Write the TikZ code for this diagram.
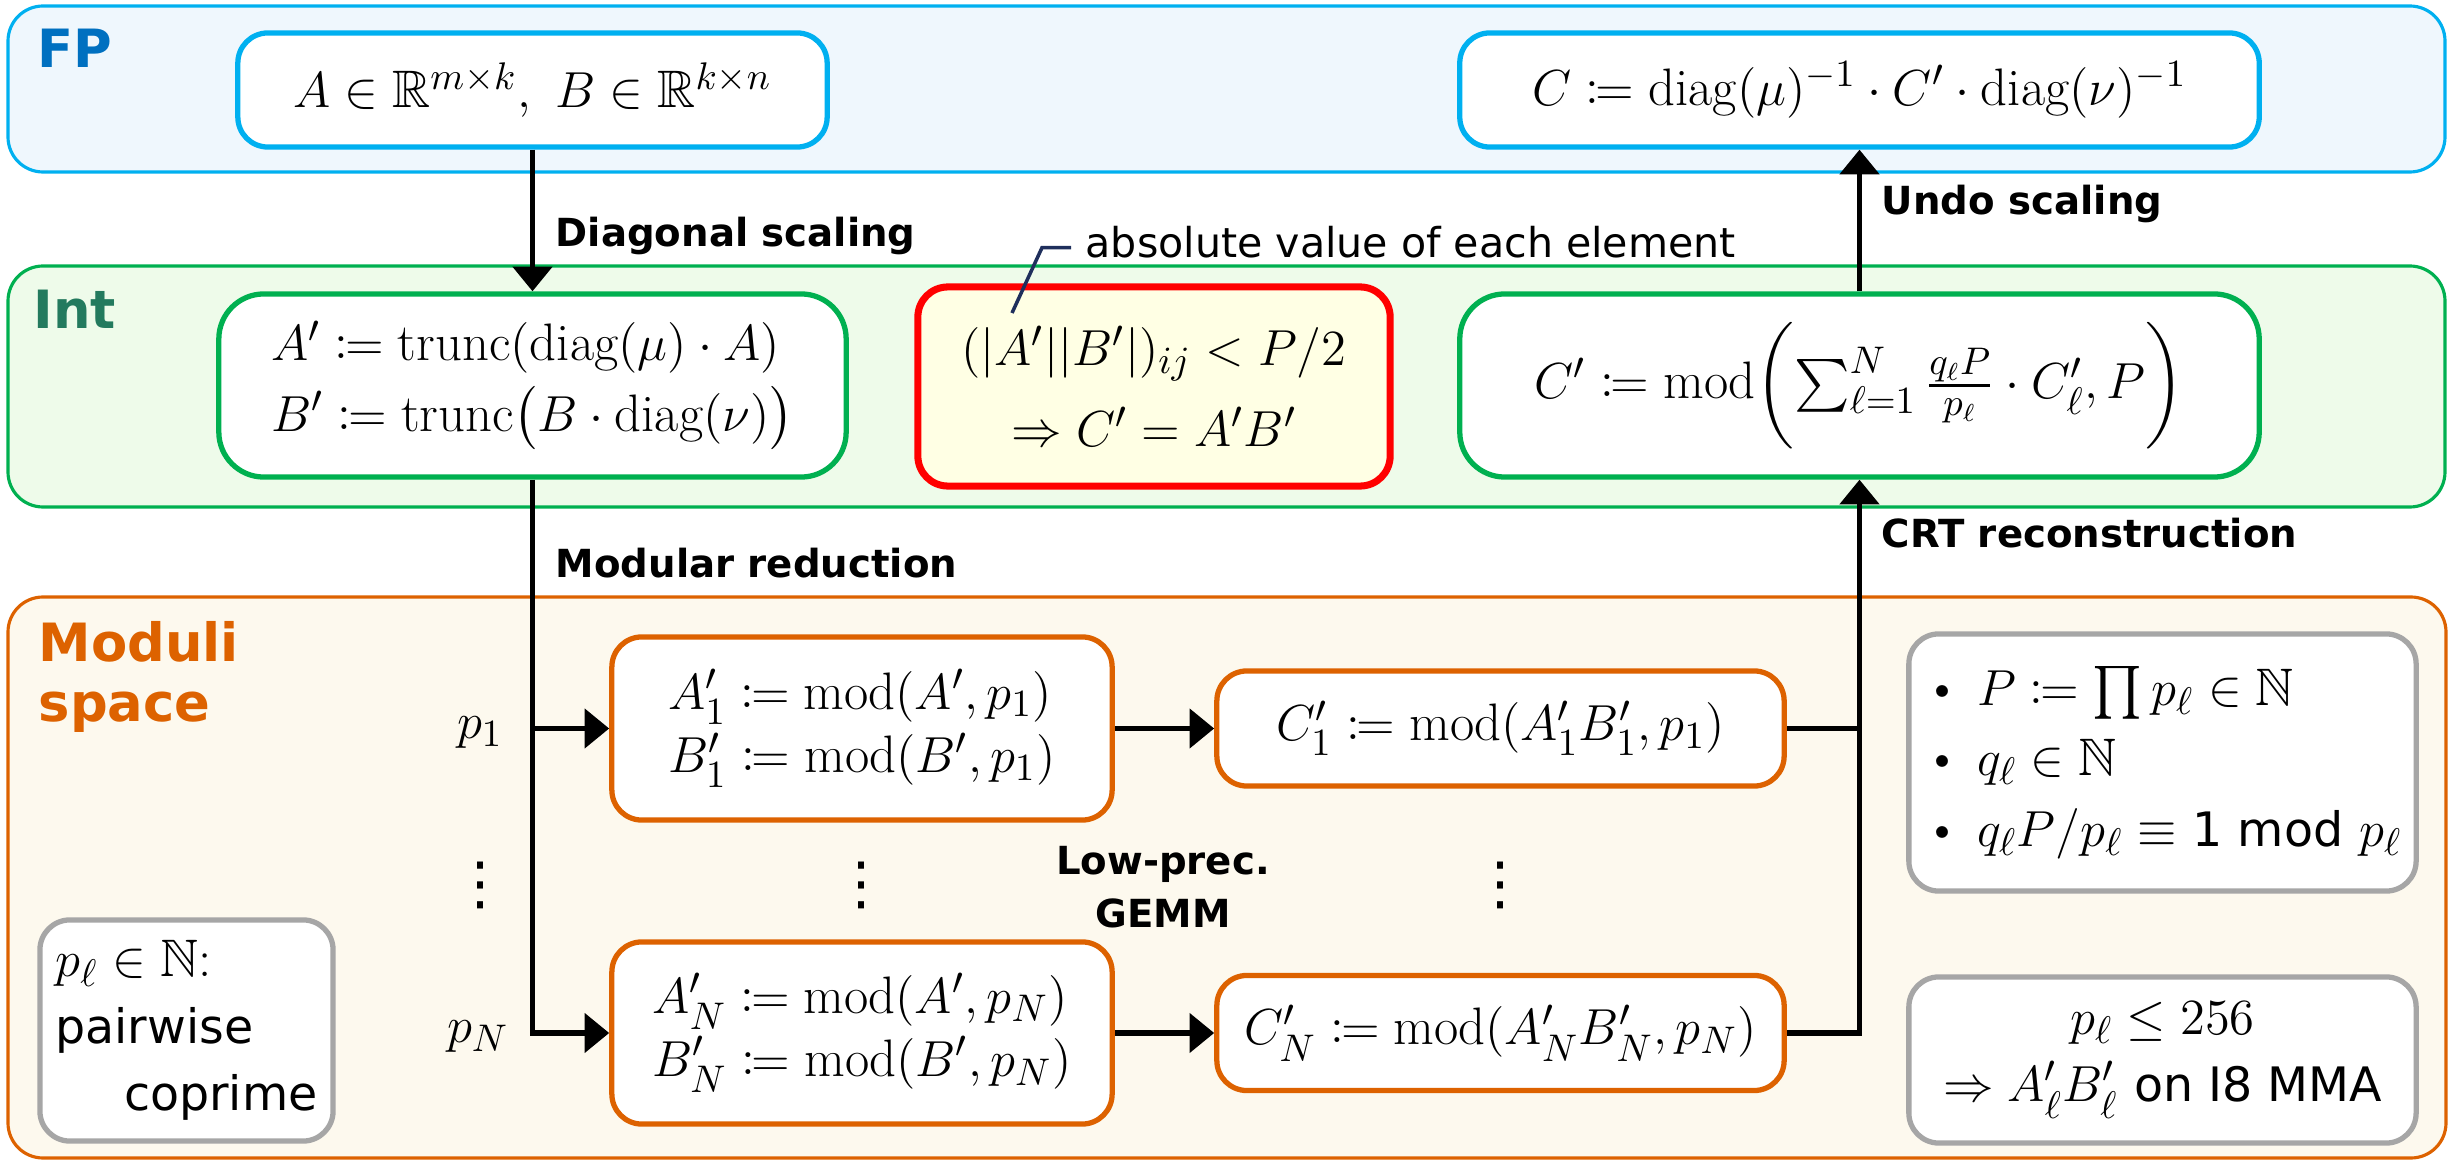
\documentclass[tikz,border=0pt]{standalone}
\usepackage{amsmath,amssymb,mathtools}
\usepackage{fontspec}
\setsansfont{DejaVu Sans}
\usetikzlibrary{arrows.meta}
\definecolor{fpblue}{HTML}{00B0F0}
\definecolor{fpfill}{HTML}{EFF7FD}
\definecolor{fplabel}{HTML}{0070C0}
\definecolor{intgreen}{HTML}{00B050}
\definecolor{intfill}{HTML}{EEFBEA}
\definecolor{intlabel}{HTML}{237A5E}
\definecolor{modorange}{HTML}{DD6200}
\definecolor{modfill}{HTML}{FDF9EE}
\definecolor{graybd}{HTML}{A6A6A6}
\definecolor{notefill}{HTML}{FFFFE4}
\definecolor{leadblue}{HTML}{1F2F5C}
\newcommand{\mth}{\fontsize{15}{18}\selectfont}
\newcommand{\gsans}{\sffamily\fontsize{13.5}{17}\selectfont}
\begin{document}
\begin{tikzpicture}[x=0.01cm,y=-0.01cm,
  box/.style={draw, line width=1.5pt, fill=white, rounded corners=0.3cm, inner sep=0pt, font=\mth, align=center},
  fpbox/.style={box, draw=fpblue},
  intbox/.style={box, draw=intgreen},
  modbox/.style={box, draw=modorange},
  graybox/.style={box, draw=graybd},
  band/.style={line width=0.9pt, rounded corners=0.35cm},
  conn/.style={line width=1.6pt, -{Triangle[width=11pt,length=7pt]}},
  wire/.style={line width=1.6pt},
  lbl/.style={font=\sffamily\bfseries\fontsize{11}{13}\selectfont, inner sep=0pt, anchor=base west},
  bandtitle/.style={font=\sffamily\bfseries\fontsize{15}{17}\selectfont, inner sep=0pt, anchor=base west},
  vdotsnode/.style={font=\sffamily\fontsize{16.5}{18}\selectfont, inner sep=0pt},
]
\useasboundingbox (0,0) rectangle (2450,1164);

% bands
\draw[band, draw=fpblue, fill=fpfill] (8,6) rectangle (2445,172);
\draw[band, draw=intgreen, fill=intfill] (8,266) rectangle (2445,507);
\draw[band, draw=modorange, fill=modfill] (8,597) rectangle (2446,1158);

\node[bandtitle, text=fplabel] (tFP) at (37,68) {FP};
\node[bandtitle, text=intlabel] (tInt) at (33,329) {Int};
\node[bandtitle, text=modorange] (tMod1) at (38,662) {Moduli};
\node[bandtitle, text=modorange] (tMod2) at (38,722) {space};

% FP boxes
\node[fpbox, minimum width=5.89cm, minimum height=1.14cm] (fpA) at (532.5,90)
  {$A\in\mathbb{R}^{m\times k},\ B\in\mathbb{R}^{k\times n}$};
\node[fpbox, minimum width=7.99cm, minimum height=1.14cm] (fpC) at (1859.5,90)
  {$C\coloneqq\operatorname{diag}(\mu)^{-1}\cdot C'\cdot\operatorname{diag}(\nu)^{-1}$};

% Int boxes
\node[intbox, minimum width=6.27cm, minimum height=1.83cm, align=left, rounded corners=0.45cm] (intA) at (532.5,385.5)
  {$A'\coloneqq\operatorname{trunc}(\operatorname{diag}(\mu)\cdot A)$\\[2pt]
   $B'\coloneqq\operatorname{trunc}\bigl(B\cdot\operatorname{diag}(\nu)\bigr)$};
\node[box, draw=red, fill=notefill, line width=2pt, minimum width=4.72cm, minimum height=1.99cm] (note) at (1154,386.5)
  {$(|A'||B'|)_{ij}<P/2$\\[5pt] $\Rightarrow C'=A'B'$};
\node[intbox, minimum width=7.99cm, minimum height=1.83cm, rounded corners=0.45cm] (intC) at (1859.5,385.5)
  {$C'\coloneqq\operatorname{mod}\biggl(\sum_{\ell=1}^{N}\frac{q_\ell P}{p_\ell}\cdot C'_\ell, P\biggr)$};

% annotation
\node[font=\sffamily\fontsize{11.7}{14}\selectfont, inner sep=0pt, anchor=base west] (annot) at (1085,258)
  {absolute value of each element};
\coordinate (lead) at (1012,313);
\draw[leadblue, line width=1pt] (annot.west) ++(-14,5) -- ++(-29,0) -- (lead);

% moduli boxes
\node[modbox, minimum width=5cm, minimum height=1.83cm, align=left] (mA1) at (862,728.5)
  {$A'_1\coloneqq\operatorname{mod}(A',p_1)$\\ $B'_1\coloneqq\operatorname{mod}(B',p_1)$};
\node[modbox, minimum width=5cm, minimum height=1.82cm, align=left] (mAN) at (862,1033)
  {$A'_N\coloneqq\operatorname{mod}(A',p_N)$\\ $B'_N\coloneqq\operatorname{mod}(B',p_N)$};
\node[modbox, minimum width=5.67cm, minimum height=1.15cm] (mC1) at (1500.5,728.5)
  {$C'_1\coloneqq\operatorname{mod}(A'_1B'_1,p_1)$};
\node[modbox, minimum width=5.67cm, minimum height=1.15cm] (mCN) at (1500.5,1033)
  {$C'_N\coloneqq\operatorname{mod}(A'_NB'_N,p_N)$};

% gray boxes
\node[graybox, minimum width=5.07cm, minimum height=2.57cm, align=left] (g1) at (2162.5,762.5)
  {\textbullet\ $P\coloneqq\prod p_\ell\in\mathbb{N}$\\[2pt]
   \textbullet\ $q_\ell\in\mathbb{N}$\\[2pt]
   \textbullet\ $q_\ell P/p_\ell\equiv$ {\gsans 1 mod} $p_\ell$};
\node[graybox, minimum width=5.07cm, minimum height=1.66cm] (g2) at (2162.5,1060)
  {$p_\ell\leq 256$\\[1pt] $\Rightarrow A'_\ell B'_\ell$ {\gsans on I8 MMA}};
\node[graybox, minimum width=2.93cm, minimum height=2.21cm, align=left] (gL) at (186.5,1030.5)
  {$p_\ell\in\mathbb{N}$:\\[1pt] {\gsans pairwise}\\[1pt] \hspace*{1.3em}{\gsans coprime}};

% side labels and dots
\node[font=\mth] (p1) at (480,733) {$p_1$};
\node[font=\mth] (pN) at (478,1037) {$p_N$};
\node[vdotsnode] (d1) at (481,885) {⋮};
\node[vdotsnode] (d2) at (862,885) {⋮};
\node[vdotsnode] (d3) at (1501,885) {⋮};
\node[font=\sffamily\bfseries\fontsize{11}{15}\selectfont, align=center, inner sep=0pt] (lGemm) at (1163,887) {Low-prec.\\GEMM};

% arrow labels
\node[lbl] (lDiag) at (555,247) {Diagonal scaling};
\node[lbl] (lUndo) at (1881,215) {Undo scaling};
\node[lbl] (lModr) at (555,578) {Modular reduction};
\node[lbl] (lCRT) at (1881,548) {CRT reconstruction};

% connectors
\draw[conn] (fpA.south) -- (intA.north);
\draw[conn] (intC.north) -- (fpC.south);
\draw[conn] (intA.south) |- (mAN.west);
\draw[conn] (intA.south |- mA1.west) -- (mA1.west);
\draw[conn] (mA1.east) -- (mC1.west);
\draw[conn] (mAN.east) -- (mCN.west);
\draw[wire] (mC1.east) -- (mC1.east -| intC.south);
\draw[conn] (mCN.east) -| (intC.south);
\end{tikzpicture}
\end{document}
